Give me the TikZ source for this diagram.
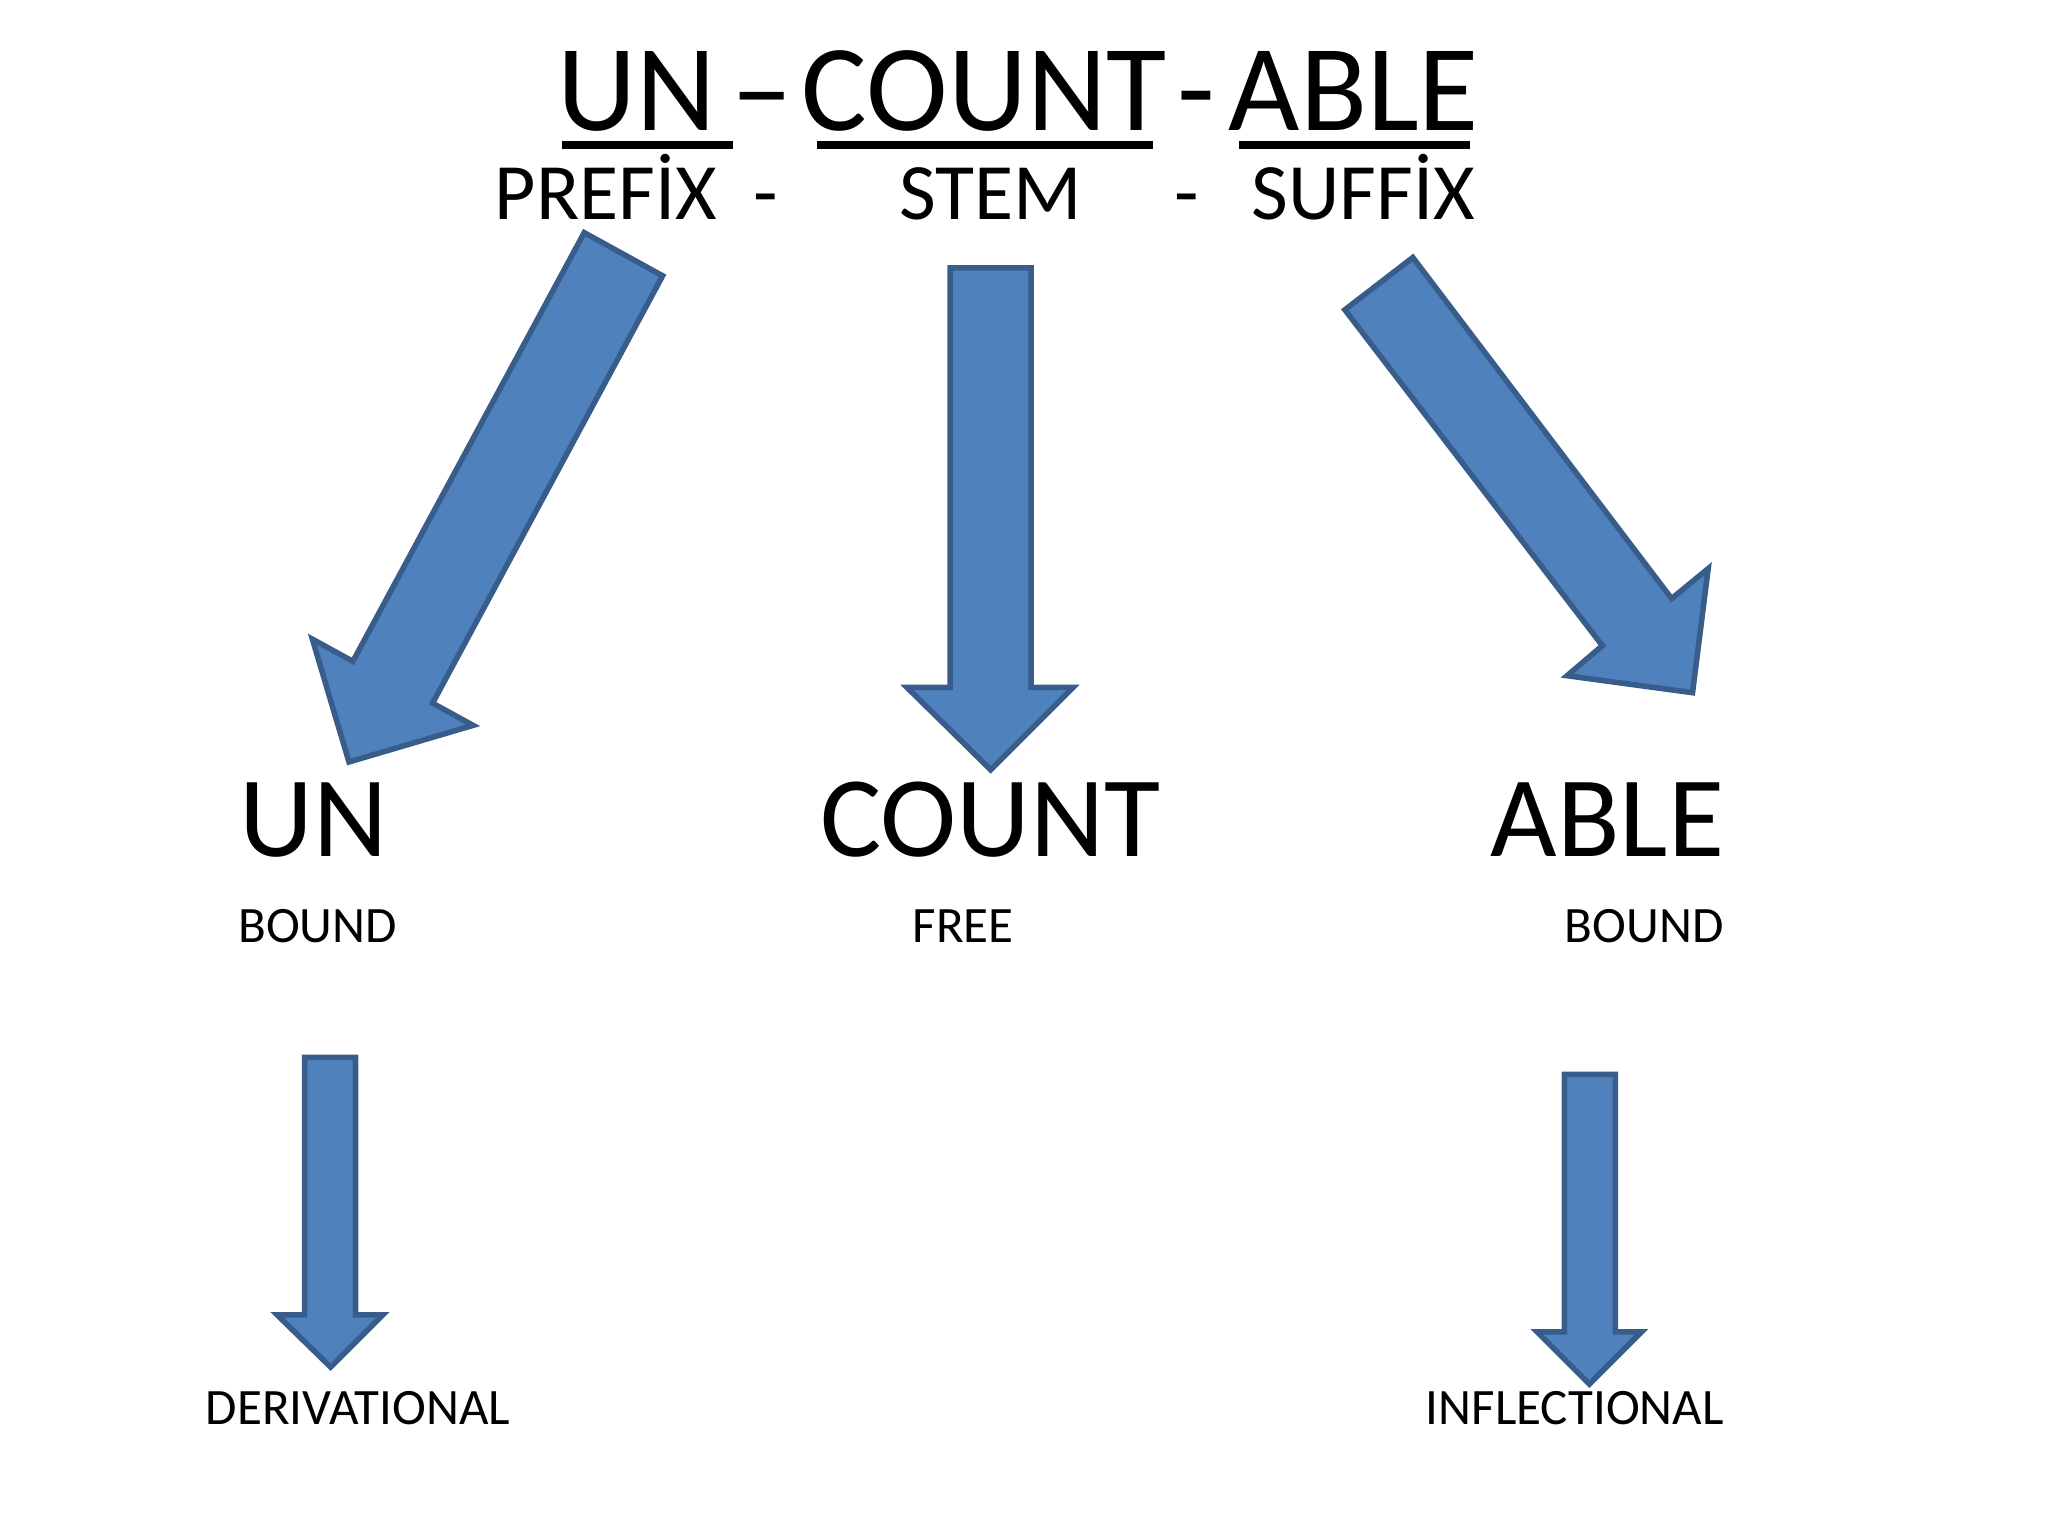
\documentclass[tikz,border=0pt]{standalone}
\usepackage{fontspec}
\setmainfont{Carlito}
\definecolor{af}{HTML}{4F81BD}
\definecolor{ad}{HTML}{385D8A}
\begin{document}
\begin{tikzpicture}[x=0.01cm,y=-0.01cm,
  arr/.style={fill=af,draw=ad,line width=1.2pt,line join=miter},
  big/.style={font=\fontsize{26.8}{30}\selectfont,anchor=base,inner sep=0pt},
  mid/.style={font=\fontsize{17.4}{21}\selectfont,anchor=base,inner sep=0pt},
  lbl/.style={font=\fontsize{11.1}{14}\selectfont,anchor=base,inner sep=0pt}]
\useasboundingbox (0,0) rectangle (1567,1175);
% title
\node[big] (t1) at (487,100) {UN};
\node[big] (t2) at (583,100) {–};
\node[big] (t3) at (753,100) {COUNT};
\node[big] (t4) at (915,100) {-};
\node[big] (t5) at (1036,100) {ABLE};
\draw[line width=1.6pt] (430,111) -- (561,111);
\draw[line width=1.6pt] (625,111) -- (882,111);
\draw[line width=1.6pt] (948,111) -- (1125,111);
\node[mid,anchor=base west] (p1) at (378,168) {PREFİX\ \ -};
\node[mid] (p2) at (758,168) {STEM};
\node[mid] (p3) at (908,168) {-};
\node[mid] (p4) at (1043,168) {SUFFİX};
% arrows
\draw[arr] (447,178)--(507,211)--(331,538)--(362,555)--(267,583)--(239,489)--(270,506)--cycle;
\draw[arr] (727,205)--(789,205)--(789,526)--(821,526)--(758,589)--(694,526)--(727,526)--cycle;
\draw[arr] (1029,237)--(1081,197)--(1279,458)--(1307,435)--(1295,530)--(1199,517)--(1226,494)--cycle;
\draw[arr] (233,809)--(272,809)--(272,1006)--(293,1006)--(253,1046)--(212,1006)--(233,1006)--cycle;
\draw[arr] (1197,822)--(1236,822)--(1236,1019)--(1256,1019)--(1216,1059)--(1176,1019)--(1197,1019)--cycle;
% middle row
\node[big,font=\fontsize{25}{29}\selectfont] (m1) at (240,655) {UN};
\node[big,font=\fontsize{25}{29}\selectfont] (m2) at (758,655) {COUNT};
\node[big,font=\fontsize{25}{29}\selectfont] (m3) at (1230,655) {ABLE};
\node[lbl] (b1) at (243,721) {BOUND};
\node[lbl] (b2) at (737,721) {FREE};
\node[lbl] (b3) at (1258,721) {BOUND};
\node[lbl] (d1) at (274,1090) {DERIVATIONAL};
\node[lbl] (d2) at (1205,1090) {INFLECTIONAL};
\end{tikzpicture}
\end{document}
